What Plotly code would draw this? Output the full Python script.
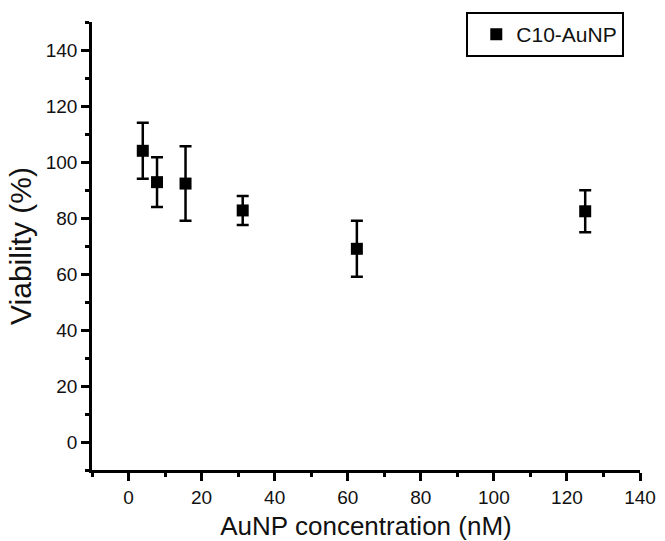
import plotly.graph_objects as go

concentration = [3.9, 7.8, 15.6, 31.25, 62.5, 125]
viability = [104.0, 92.8, 92.3, 82.7, 69.0, 82.4]
error = [10.0, 8.9, 13.3, 5.2, 10.0, 7.5]
x_ticks = [0, 20, 40, 60, 80, 100, 120, 140]
y_ticks = [0, 20, 40, 60, 80, 100, 120, 140]

fig = go.Figure()
fig.add_trace(go.Scatter(
    x=concentration, y=viability, mode="markers", name="C10-AuNP",
    marker=dict(symbol="square", size=12, color="black"),
    error_y=dict(type="data", array=error, visible=True, color="black", thickness=2.5, width=6),
))

font = "Liberation Sans, Arial, sans-serif"
axis_common = dict(
    showline=True, linecolor="black", linewidth=2.5, mirror=False,
    ticks="outside", ticklen=8, tickwidth=2.5, tickcolor="black",
    showgrid=False, zeroline=False, automargin=False,
    tickfont=dict(family=font, size=19, color="#111"),
    minor=dict(ticks="outside", ticklen=4, tickwidth=2.5, tickcolor="black", dtick=10),
)
fig.update_xaxes(range=[-10, 140], tickvals=x_ticks,
                 title=dict(text="AuNP concentration (nM)", font=dict(family=font, size=26, color="#111"), standoff=12),
                 **axis_common)
fig.update_yaxes(range=[-10, 150], tickvals=y_ticks,
                 title=dict(text="Viability (%)", font=dict(family=font, size=30, color="#111"), standoff=6),
                 **axis_common)
fig.update_layout(
    width=665, height=541, plot_bgcolor="white", paper_bgcolor="white",
    margin=dict(l=92, r=25, t=22, b=71),
    showlegend=True,
    legend=dict(x=0.683, y=1.022, xanchor="left", yanchor="top",
                bordercolor="black", borderwidth=2, bgcolor="white",
                font=dict(family=font, size=21, color="#111"),
                itemsizing="constant", tracegroupgap=0, indentation=8),
)
fig.write_html("out.html", config={"displayModeBar": False},
               post_script="document.body.style.margin='0';")
